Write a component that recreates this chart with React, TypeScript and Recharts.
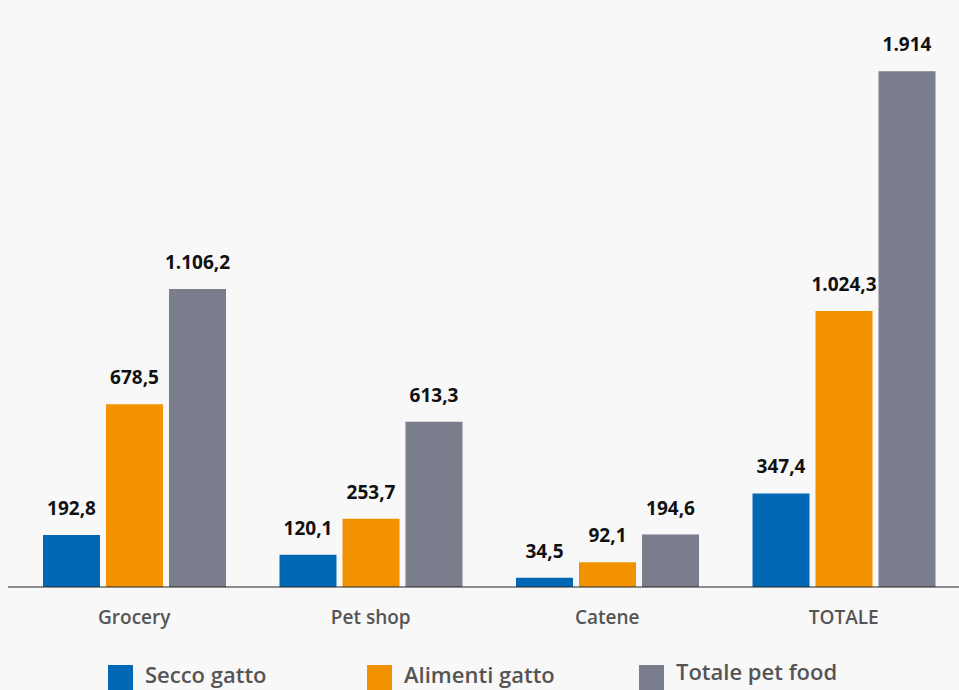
import { BarChart, Bar, XAxis, YAxis, Legend, LabelList } from "recharts"

const categories = ["Grocery", "Pet shop", "Catene", "TOTALE"]
const seccoGatto = [192.8, 120.1, 34.5, 347.4]
const alimentiGatto = [678.5, 253.7, 92.1, 1024.3]
const totalePetFood = [1106.2, 613.3, 194.6, 1914]

const SERIES = [
  { key: "secco", name: "Secco gatto", color: "#0068b4" },
  { key: "alimenti", name: "Alimenti gatto", color: "#f39200" },
  { key: "totale", name: "Totale pet food", color: "#7a7d8c" },
]

const data = categories.map((c, i) => ({
  name: c,
  secco: seccoGatto[i],
  alimenti: alimentiGatto[i],
  totale: totalePetFood[i],
}))

const FONT = "'Open Sans', 'Noto Sans', sans-serif"

// italian style: 1.106,2 / 1.914
function fmt(v: any) {
  const n = Number(v)
  const [int, dec] = (Number.isInteger(n) ? String(n) : n.toFixed(1)).split(".")
  const withDots = int.replace(/\B(?=(\d{3})+(?!\d))/g, ".")
  return dec ? `${withDots},${dec}` : withDots
}

const legendWidths = [259, 272, 220]

function LegendContent() {
  return (
    <div style={{ display: "flex", paddingLeft: 100, paddingTop: 10, height: 25, fontFamily: FONT }}>
      {SERIES.map((s, i) => (
        <div key={s.key} style={{ display: "flex", alignItems: "center", width: legendWidths[i] }}>
          <div style={{ width: 25, height: 25, background: s.color, marginRight: 12 }} />
          <span
            style={{
              fontSize: 22,
              fontWeight: 600,
              color: "#555",
              lineHeight: "25px",
              position: "relative",
              top: i === 2 ? -6 : -3,
            }}
          >
            {s.name}
          </span>
        </div>
      ))}
    </div>
  )
}

export default function App() {
  return (
    <div style={{ position: "absolute", left: 0, top: 0, width: 959, height: 690, background: "#f8f8f8", overflow: "hidden" }}>
      <BarChart
        width={959}
        height={690}
        data={data}
        margin={{ top: 48, right: 0, bottom: 0, left: 8 }}
        barGap={6}
        barSize={57}
      >
        <XAxis
          dataKey="name"
          height={68}
          padding={{ left: 8, right: -3 }}
          axisLine={{ stroke: "#222", strokeWidth: 1 }}
          tickLine={false}
          tickSize={0}
          tickMargin={24}
          tick={{ fill: "#555", fontSize: 19, fontWeight: 600, fontFamily: FONT }}
        />
        <YAxis hide domain={[0, 2000]} />
        <Legend verticalAlign="bottom" align="left" content={<LegendContent />} />
        {SERIES.map((s) => (
          <Bar key={s.key} dataKey={s.key} name={s.name} fill={s.color} isAnimationActive={false}>
            <LabelList
              dataKey={s.key}
              position="top"
              offset={20}
              formatter={fmt}
              style={{ fill: "#111", fontSize: 19, fontWeight: 700, fontFamily: FONT }}
            />
          </Bar>
        ))}
      </BarChart>
    </div>
  )
}
